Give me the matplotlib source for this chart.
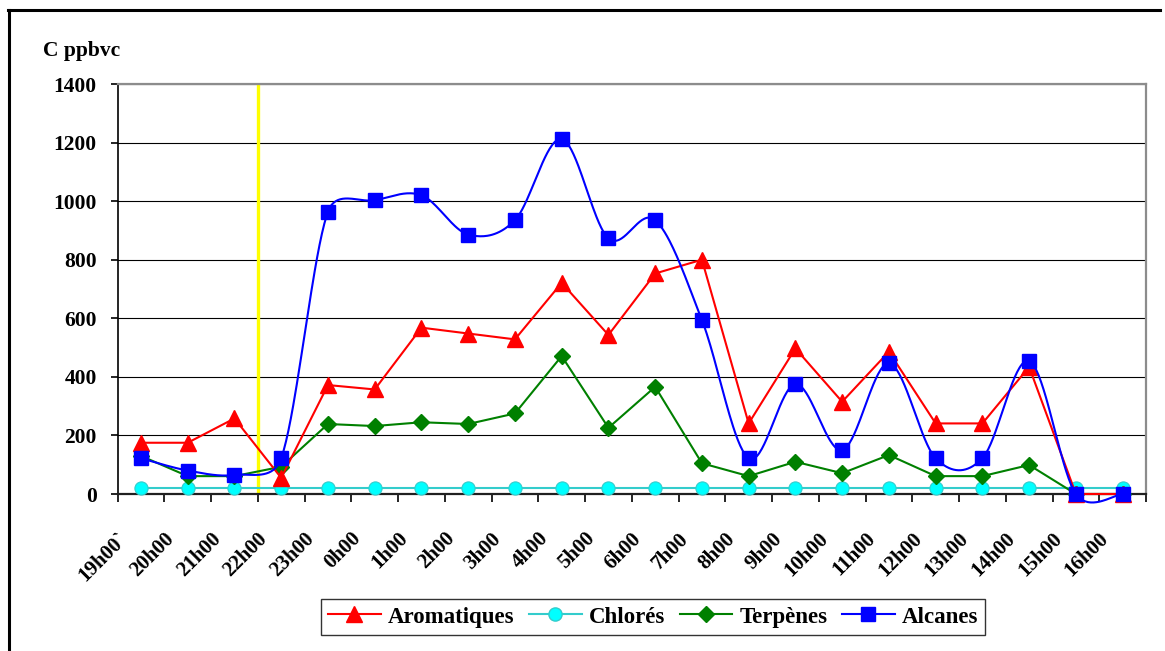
import numpy as np
import matplotlib
matplotlib.use("Agg")
import matplotlib.pyplot as plt
from matplotlib.lines import Line2D
from matplotlib.transforms import ScaledTranslation

plt.rcParams['font.family'] = ['Liberation Serif', 'DejaVu Serif']
plt.rcParams['font.weight'] = 'bold'

# Hourly concentrations (C ppbvc) per compound family
hours = ["19h00`", "20h00", "21h00", "22h00", "23h00", "0h00", "1h00", "2h00",
         "3h00", "4h00", "5h00", "6h00", "7h00", "8h00", "9h00", "10h00",
         "11h00", "12h00", "13h00", "14h00", "15h00", "16h00"]
aromatiques = [175, 175, 258, 55, 372, 357, 568, 548, 528, 721, 543, 753,
               800, 241, 497, 315, 486, 241, 241, 434, 0, 0]
chlores = [20, 20, 20, 20, 20, 20, 20, 20, 20, 20, 20, 20,
           20, 20, 20, 20, 20, 20, 20, 20, 20, 20]
terpenes = [130, 61, 61, 93, 239, 232, 245, 239, 275, 471, 226, 366,
            105, 61, 110, 71, 133, 61, 61, 99, 0, 0]
alcanes = [122, 80, 65, 122, 964, 1003, 1020, 886, 935, 1212, 873, 935,
           594, 122, 375, 150, 446, 122, 122, 454, 0, 0]

W, H = 1165, 651
fig = plt.figure(figsize=(W / 100, H / 100), dpi=100)

# Outer frame (top and left edges)
fig.add_artist(Line2D([8 / W, 1160 / W], [1 - 10 / H, 1 - 10 / H],
                      transform=fig.transFigure, color='black', lw=2.2))
fig.add_artist(Line2D([9 / W, 9 / W], [1 - 10 / H, 0],
                      transform=fig.transFigure, color='black', lw=2.2))

left, right, top, bottom = 117.6, 1146, 84, 494
ax = fig.add_axes([left / W, 1 - bottom / H, (right - left) / W, (bottom - top) / H])

x = np.arange(len(hours))
ax.set_xlim(-0.5, len(hours) - 0.5)
ax.set_ylim(0, 1400)

ax.set_yticks(np.arange(0, 1401, 200))
ax.set_yticklabels([str(v) for v in range(0, 1401, 200)], fontsize=15.5, fontweight='bold')
ax.grid(axis='y', color='black', lw=0.8, zorder=0)
ax.set_axisbelow(True)

ax.set_xticks(np.arange(-0.5, len(hours), 1.0))
ax.set_xticklabels([])
ax.set_xticks(x, minor=True)
ax.set_xticklabels(hours, minor=True, rotation=45, ha='right', va='center',
                   rotation_mode='anchor', fontsize=15, fontweight='bold')
ax.tick_params(axis='x', which='minor', length=0, pad=30)
ax.tick_params(axis='x', which='major', direction='out', length=6, width=1.2, color='black')
ax.tick_params(axis='y', direction='out', length=5, width=1.2, color='black', pad=10)
shift = ScaledTranslation(-12 / 72, 0, fig.dpi_scale_trans)
for lab in ax.get_xticklabels(minor=True):
    lab.set_transform(lab.get_transform() + shift)

for s in ('top', 'right'):
    ax.spines[s].set_color('#8c8c8c')
    ax.spines[s].set_linewidth(1.6)
ax.spines['left'].set_color('black')
ax.spines['left'].set_linewidth(1.2)
ax.spines['bottom'].set_color('#202020')
ax.spines['bottom'].set_linewidth(1.6)

# Vertical marker at 22h00
ax.axvline(2.5, color='#ffff00', lw=2.4, zorder=1)


def smooth_curve(xd, yd, n=40):
    """Bezier smoothing computed in display space (limited tangent handles)."""
    pts = ax.transData.transform(np.column_stack([xd, yd]).astype(float))
    m = len(pts)
    f = 1.0 / 6.0
    out = [pts[:1]]
    t = np.linspace(0, 1, n)[1:, None]
    for i in range(m - 1):
        p0 = pts[i - 1] if i > 0 else pts[i]
        p1 = pts[i]
        p2 = pts[i + 1]
        p3 = pts[i + 2] if i + 2 < m else pts[i + 1]
        d12 = np.hypot(*(p2 - p1))
        d02 = np.hypot(*(p2 - p0))
        d13 = np.hypot(*(p3 - p1))
        f1 = f if (d02 == 0 or f * d02 <= d12 / 2) else d12 / (2 * d02)
        f2 = f if (d13 == 0 or f * d13 <= d12 / 2) else d12 / (2 * d13)
        c1 = p1 + f1 * (p2 - p0)
        c2 = p2 - f2 * (p3 - p1)
        seg = ((1 - t) ** 3) * p1 + 3 * ((1 - t) ** 2) * t * c1 \
            + 3 * (1 - t) * (t ** 2) * c2 + (t ** 3) * p2
        out.append(seg)
    res = ax.transData.inverted().transform(np.vstack(out))
    return res[:, 0], res[:, 1]


lw = 1.5
red, cyan_line, cyan, green, blue = '#ff0000', '#33cccc', '#00ffff', '#008000', '#0000ff'

ax.plot(x, chlores, color=cyan_line, lw=lw, marker='o', ms=9.5,
        mfc=cyan, mec=cyan_line, mew=0.8, zorder=3, clip_on=False)
ax.plot(x, terpenes, color=green, lw=lw, marker='D', ms=7.8,
        mfc=green, mec=green, zorder=4, clip_on=False)
ax.plot(x, aromatiques, color=red, lw=lw, marker='^', ms=11.5,
        mfc=red, mec=red, zorder=5, clip_on=False)
sx, sy = smooth_curve(x, alcanes)
ax.plot(sx, sy, color=blue, lw=lw, zorder=6, clip_on=False)
ax.plot(x, alcanes, ls='none', marker='s', ms=9.8, mfc=blue, mec=blue,
        zorder=7, clip_on=False)

fig.text(43 / W, 1 - 51 / H, "C ppbvc", fontsize=15.5, fontweight='bold',
         ha='left', va='center')

handles = [
    Line2D([], [], color=red, lw=lw, marker='^', ms=11.5, mfc=red, mec=red),
    Line2D([], [], color=cyan_line, lw=lw, marker='o', ms=9.5, mfc=cyan, mec=cyan_line),
    Line2D([], [], color=green, lw=lw, marker='D', ms=7.8, mfc=green, mec=green),
    Line2D([], [], color=blue, lw=lw, marker='s', ms=9.8, mfc=blue, mec=blue),
]
leg = fig.legend(handles, ["Aromatiques", "Chlorés", "Terpènes", "Alcanes"],
                 loc='center', bbox_to_anchor=(653 / W, 1 - 617 / H),
                 bbox_transform=fig.transFigure, ncol=4, numpoints=1,
                 prop={'family': ['Liberation Serif', 'DejaVu Serif'], 'weight': 'bold', 'size': 16.5},
                 frameon=True, fancybox=False, shadow=False, edgecolor='black',
                 handlelength=2.3, handletextpad=0.3, columnspacing=0.65,
                 borderpad=0.32, borderaxespad=0)
leg.get_frame().set_linewidth(1.0)

fig.savefig("out.png", dpi=100)
